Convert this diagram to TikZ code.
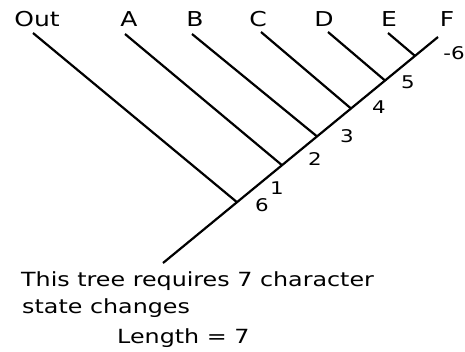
\documentclass[tikz,border=0pt]{standalone}
\usepackage{fontspec}
\setmainfont{DejaVu Sans}[FakeStretch=1.22]
\begin{document}
\begin{tikzpicture}[x=1pt,y=-1pt,
  branch/.style={line width=2.2pt},
  taxon/.style={font=\fontsize{20.5}{24}\selectfont,anchor=base,inner sep=0pt},
  chg/.style={font=\fontsize{17.5}{20}\selectfont,anchor=center,inner sep=0pt},
  caption/.style={font=\fontsize{19.5}{24}\selectfont,anchor=base west,inner sep=0pt}]
\useasboundingbox (0,0) rectangle (465,351);
% tree coordinates
\coordinate (root) at (163,263);
\coordinate (j1) at (237,202.2);
\coordinate (j2) at (282,165.2);
\coordinate (j3) at (317,136.4);
\coordinate (j4) at (351,108.5);
\coordinate (j5) at (385,80.5);
\coordinate (j6) at (415,55.9);
\coordinate (tF) at (438,37);
\coordinate (tOut) at (33,33);
\coordinate (tA) at (125,34);
\coordinate (tB) at (192,34);
\coordinate (tC) at (261,32);
\coordinate (tD) at (328,32);
\coordinate (tE) at (388,33);
% branches
\draw[branch] (root) -- (tF);
\draw[branch] (tOut) -- (j1);
\draw[branch] (tA) -- (j2);
\draw[branch] (tB) -- (j3);
\draw[branch] (tC) -- (j4);
\draw[branch] (tD) -- (j5);
\draw[branch] (tE) -- (j6);
% taxa
\node[taxon] (lOut) at (37,26.5) {Out};
\node[taxon] (lA) at (129,26.5) {A};
\node[taxon] (lB) at (195,26.5) {B};
\node[taxon] (lC) at (258,26.5) {C};
\node[taxon] (lD) at (324,26.5) {D};
\node[taxon] (lE) at (389,26.5) {E};
\node[taxon] (lF) at (447,26.5) {F};
% character changes
\node[chg] (c5) at (408,82) {5};
\node[chg] (c4) at (379,107) {4};
\node[chg] (c3) at (347,136) {3};
\node[chg] (c2) at (315,159) {2};
\node[chg] (c1) at (277,188) {1};
\node[chg] (c6) at (262,205) {6};
\node[chg] (cm6) at (454,53) {-6};
% caption
\node[caption] (t1) at (21,286) {This tree requires 7 character};
\node[caption] (t2) at (22,313) {state changes};
\node[caption] (t3) at (117,343) {Length = 7};
\end{tikzpicture}
\end{document}
